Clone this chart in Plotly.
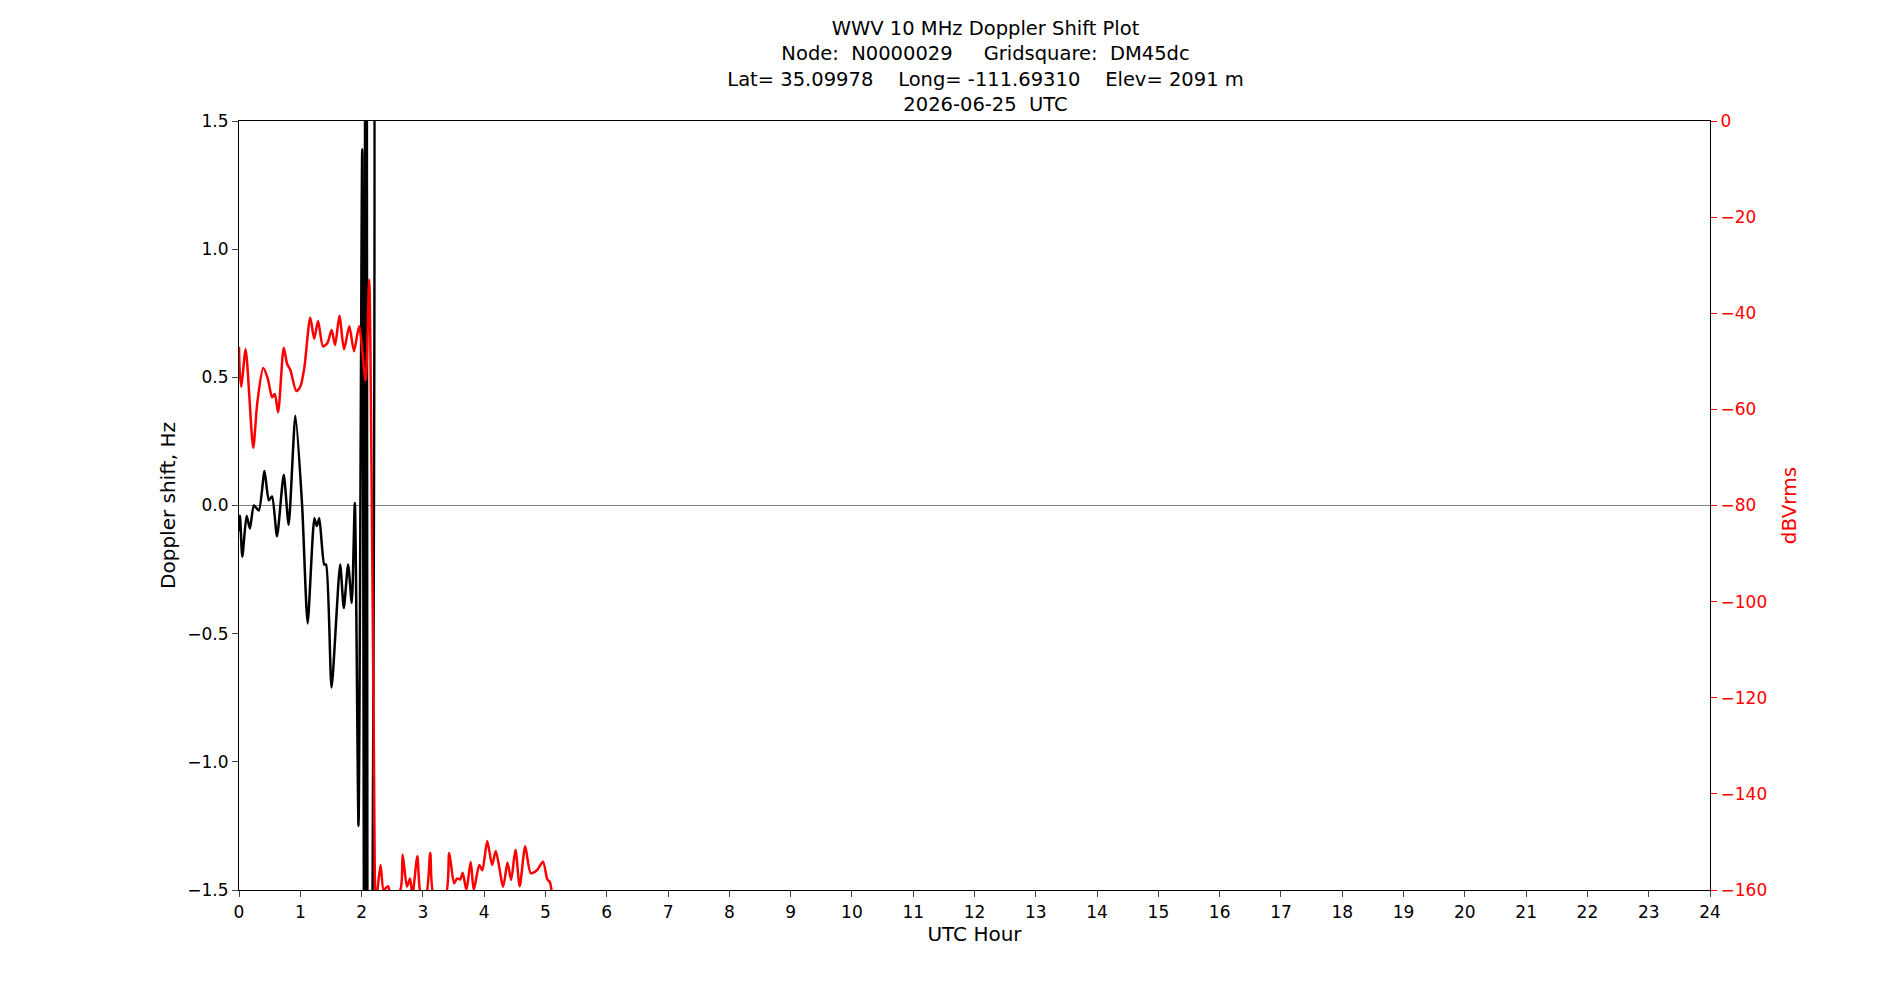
import plotly.graph_objects as go

# Doppler shift (Hz) vs UTC hour
dop_hour = [0.0, 0.016, 0.054, 0.124, 0.178, 0.243, 0.324, 0.416, 0.486, 0.54, 0.62, 0.73, 0.81,
            0.92, 1.03, 1.12, 1.23, 1.27, 1.31, 1.39, 1.42, 1.51, 1.65, 1.71, 1.78, 1.84, 1.89,
            1.95, 2.01, 2.05, 2.08, 2.1, 2.12, 2.14, 2.15]
dop_hz = [-0.1, -0.04, -0.2, -0.04, -0.09, 0.0, -0.02, 0.135, 0.02, 0.035, -0.12, 0.12, -0.075,
          0.35, 0.0, -0.46, -0.05, -0.08, -0.05, -0.23, -0.23, -0.71, -0.23, -0.4, -0.23, -0.38, 0.01,
          -1.25, 1.39, -3.0, 3.0, -3.0, 3.0, 3.0, -3.0]

# Received power (dBVrms) vs UTC hour
pwr_hour = [0.0, 0.011, 0.038, 0.108, 0.232, 0.297, 0.395, 0.47, 0.54, 0.584, 0.638, 0.73, 0.784,
            0.838, 0.935, 1.0, 1.065, 1.162, 1.227, 1.29, 1.37, 1.443, 1.51, 1.568, 1.638, 1.714,
            1.8, 1.876, 1.96, 2.065, 2.124, 2.162, 2.2, 2.23,
            2.26, 2.31, 2.36, 2.43, 2.48, 2.63, 2.67, 2.74, 2.79, 2.83, 2.91, 2.97, 3.05, 3.12,
            3.18, 3.37, 3.43, 3.51, 3.56, 3.61, 3.65, 3.71, 3.78, 3.83, 3.92, 3.97, 4.05, 4.13,
            4.19, 4.31, 4.38, 4.44, 4.51, 4.58, 4.67, 4.76, 4.86, 4.96, 5.03, 5.07, 5.11]
pwr_db = [-47.0, -52.0, -55.3, -47.5, -68.0, -58.8, -51.4, -53.6, -57.5, -56.8, -60.6, -47.2, -50.5,
          -51.8, -56.2, -55.3, -51.4, -40.9, -45.3, -41.6, -46.9, -46.2, -43.5, -46.6, -40.5, -47.5,
          -42.7, -47.9, -42.7, -54.0, -33.0, -72.4, -130.0, -165.0,
          -160.0, -154.8, -160.0, -159.2, -161.0, -160.0, -152.6, -159.3, -157.6, -161.0, -153.0,
          -161.0, -161.0, -152.3, -161.0, -161.0, -152.3, -158.6, -157.6, -157.8, -156.4, -160.0,
          -154.1, -160.0, -154.8, -155.9, -149.8, -154.8, -151.9, -159.3, -154.3, -157.9, -151.6,
          -159.2, -150.9, -156.5, -155.9, -154.1, -157.8, -158.3, -161.0]

hour_ticks = list(range(0, 25))
hz_ticks = [-1.5, -1.0, -0.5, 0.0, 0.5, 1.0, 1.5]
db_ticks = list(range(-160, 1, 20))

title = ("WWV 10 MHz Doppler Shift Plot<br>"
         "Node:  N0000029     Gridsquare:  DM45dc<br>"
         "Lat= 35.09978    Long= -111.69310    Elev= 2091 m<br>"
         "2026-06-25  UTC")

fig = go.Figure()
fig.add_trace(go.Scatter(x=dop_hour, y=dop_hz, mode="lines", line=dict(color="black", width=2.5, shape="spline", smoothing=0.6),
                         showlegend=False))
fig.add_trace(go.Scatter(x=pwr_hour, y=pwr_db, mode="lines", line=dict(color="red", width=2.5, shape="spline", smoothing=0.7),
                         yaxis="y2", showlegend=False))

axfont = dict(family="DejaVu Sans", size=17, color="black")
fig.update_layout(
    width=1900, height=1000,
    plot_bgcolor="white", paper_bgcolor="white",
    margin=dict(l=231, r=198, t=113, b=118),
    font=dict(family="DejaVu Sans", size=17, color="black"),
    title=dict(text=title, x=0.5145, xanchor="center", y=0.973, yanchor="top", font=dict(size=19.5)),
    xaxis=dict(range=[0, 24], tickvals=hour_ticks, title=dict(text="UTC Hour", standoff=4), ticks="outside",
               ticklen=6, showline=True, linecolor="black", linewidth=1.2, mirror=True, showgrid=False,
               zeroline=False, tickfont=axfont),
    yaxis=dict(range=[-1.5, 1.5], tickvals=hz_ticks, tickformat=".1f", title=dict(text="Doppler shift, Hz", standoff=6),
               ticks="outside", ticklen=6, showline=True, linecolor="black", linewidth=1.2, showgrid=False,
               zeroline=True, zerolinecolor="gray", zerolinewidth=1.2, tickfont=axfont),
    yaxis2=dict(range=[-160, 0], tickvals=db_ticks, overlaying="y", side="right", title=dict(text="dBVrms", font=dict(color="red")),
                ticks="outside", ticklen=6, tickcolor="red", showline=True, linecolor="black", linewidth=1.2,
                showgrid=False, zeroline=False, tickfont=dict(family="DejaVu Sans", size=17, color="red")),
)

fig.write_html("out.html")
